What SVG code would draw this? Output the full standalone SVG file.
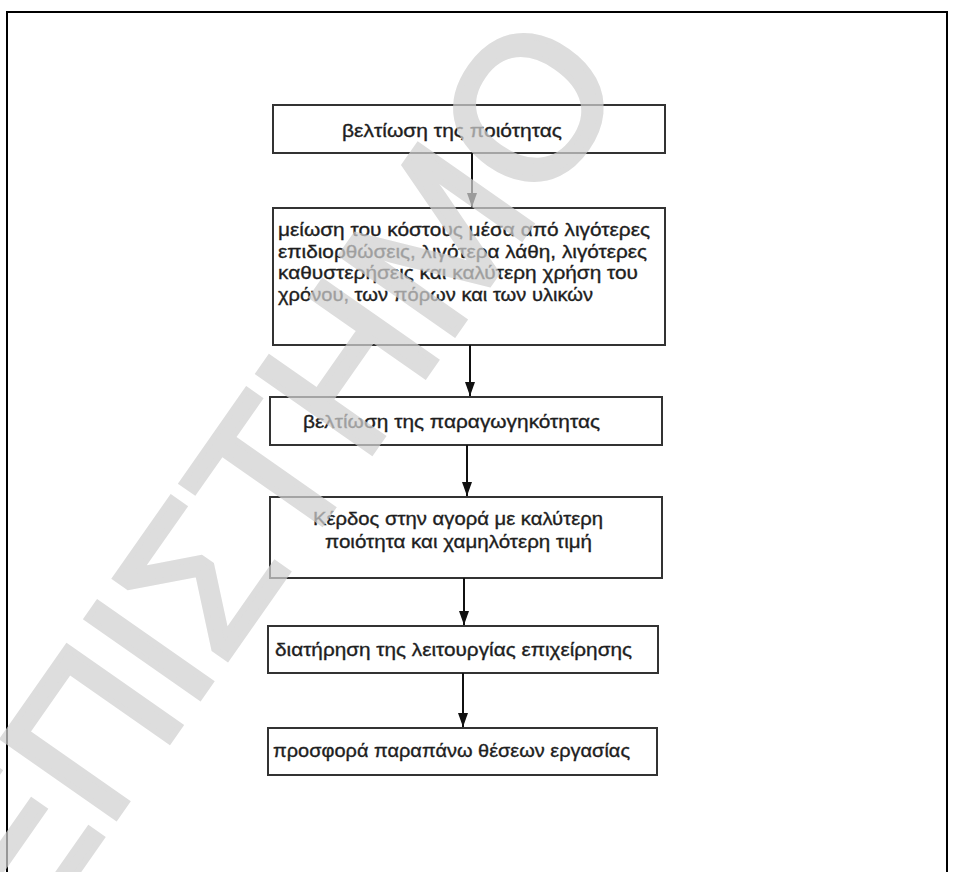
<svg xmlns="http://www.w3.org/2000/svg" width="953" height="872" viewBox="0 0 953 872">
<defs>
<style>
.box{fill:#fff;stroke:#333;stroke-width:2}
.t{font-family:"Liberation Sans","DejaVu Sans",sans-serif;font-size:19px;fill:#1e1e1e;stroke:#1e1e1e;stroke-width:0.35}
.con{stroke:#111;stroke-width:2;fill:none}
.wm{font-family:"Liberation Sans","DejaVu Sans",sans-serif;font-size:200px;fill:#d0d0d0;stroke:#d0d0d0;stroke-width:6;stroke-linejoin:miter;opacity:0.72}
</style>
<marker id="arr" viewBox="0 0 14 10" refX="14" refY="5" markerWidth="14" markerHeight="10" markerUnits="userSpaceOnUse" orient="auto">
<path d="M0,0 L14,5 L0,10 z" fill="#111"/>
</marker>
</defs>
<rect x="0" y="0" width="953" height="872" fill="#fff"/>
<rect x="7" y="12" width="940" height="870" fill="none" stroke="#000" stroke-width="2"/>

<g id="n1">
<rect class="box" x="273" y="105" width="392" height="48"/>
<text class="t" x="342" y="137" textLength="220" lengthAdjust="spacingAndGlyphs">βελτίωση της ποιότητας</text>
</g>
<g id="n2">
<rect class="box" x="273" y="208" width="392" height="137"/>
<text class="t" x="278" y="236" textLength="372" lengthAdjust="spacingAndGlyphs">μείωση του κόστους μέσα από λιγότερες</text>
<text class="t" x="278" y="257.5" textLength="369" lengthAdjust="spacingAndGlyphs">επιδιορθώσεις, λιγότερα λάθη, λιγότερες</text>
<text class="t" x="278" y="279" textLength="360" lengthAdjust="spacingAndGlyphs">καθυστερήσεις και καλύτερη χρήση του</text>
<text class="t" x="278" y="300.5" textLength="315" lengthAdjust="spacingAndGlyphs">χρόνου, των πόρων και των υλικών</text>
</g>
<g id="n3">
<rect class="box" x="270" y="397" width="392" height="48"/>
<text class="t" x="303" y="428" textLength="297" lengthAdjust="spacingAndGlyphs">βελτίωση της παραγωγηκότητας</text>
</g>
<g id="n4">
<rect class="box" x="270" y="497" width="392" height="81"/>
<text class="t" x="313" y="525" textLength="290" lengthAdjust="spacingAndGlyphs">Κέρδος στην αγορά με καλύτερη</text>
<text class="t" x="325" y="548" textLength="267" lengthAdjust="spacingAndGlyphs">ποιότητα και χαμηλότερη τιμή</text>
</g>
<g id="n5">
<rect class="box" x="268" y="626" width="390" height="47"/>
<text class="t" x="275" y="656" textLength="357" lengthAdjust="spacingAndGlyphs">διατήρηση της λειτουργίας επιχείρησης</text>
</g>
<g id="n6">
<rect class="box" x="268" y="728" width="389" height="47"/>
<text class="t" x="273" y="757" textLength="357" lengthAdjust="spacingAndGlyphs">προσφορά παραπάνω θέσεων εργασίας</text>
</g>

<g id="connectors">
<line class="con" x1="472" y1="153" x2="472" y2="207" marker-end="url(#arr)"/>
<line class="con" x1="470" y1="345" x2="470" y2="396" marker-end="url(#arr)"/>
<line class="con" x1="467" y1="445" x2="467" y2="496" marker-end="url(#arr)"/>
<line class="con" x1="464" y1="578" x2="464" y2="625" marker-end="url(#arr)"/>
<line class="con" x1="463" y1="673" x2="463" y2="727" marker-end="url(#arr)"/>
</g>

<text class="wm" transform="translate(30,940) rotate(-55)">ΕΠΙΣΤΗΜΟ</text>
</svg>
